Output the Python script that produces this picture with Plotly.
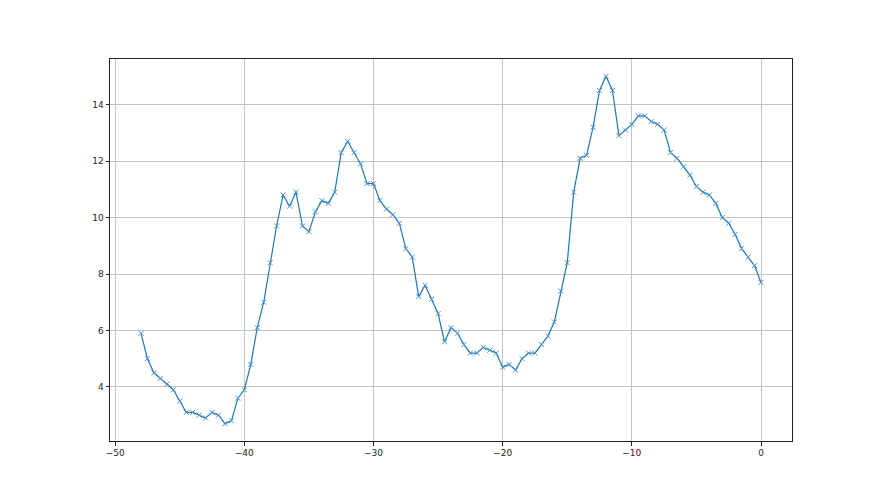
import numpy as np
import plotly.graph_objects as go

x_vals = np.arange(-48, 0.25, 0.5)
y_vals = [
    5.9, 5.0, 4.5, 4.3, 4.1, 3.9, 3.5, 3.1, 3.1, 3.0,
    2.9, 3.1, 3.0, 2.7, 2.8, 3.6, 3.9, 4.8, 6.1, 7.0,
    8.4, 9.7, 10.8, 10.4, 10.9, 9.7, 9.5, 10.2, 10.6, 10.5,
    10.9, 12.3, 12.7, 12.3, 11.9, 11.2, 11.2, 10.6, 10.3, 10.1,
    9.8, 8.9, 8.6, 7.2, 7.6, 7.1, 6.6, 5.6, 6.1, 5.9,
    5.5, 5.2, 5.2, 5.4, 5.3, 5.2, 4.7, 4.8, 4.6, 5.0,
    5.2, 5.2, 5.5, 5.8, 6.3, 7.4, 8.4, 10.9, 12.1, 12.2,
    13.2, 14.5, 15.0, 14.5, 12.9, 13.1, 13.3, 13.6, 13.6, 13.4,
    13.3, 13.1, 12.3, 12.1, 11.8, 11.5, 11.1, 10.9, 10.8, 10.5,
    10.0, 9.8, 9.4, 8.9, 8.6, 8.3, 7.7,
]
x_ticks = [-50, -40, -30, -20, -10, 0]
y_ticks = [4, 6, 8, 10, 12, 14]

fig = go.Figure()
fig.add_trace(go.Scatter(
    x=x_vals, y=y_vals, mode="lines+markers",
    line=dict(color="#1f77b4", width=1.2),
    marker=dict(symbol="x-thin", size=5, line=dict(color="#4a92c6", width=1)),
    showlegend=False,
))

axis_common = dict(
    showline=True, linecolor="#222222", linewidth=1, mirror=True,
    showgrid=True, gridcolor="#c4c4c4", gridwidth=0.8,
    ticks="outside", ticklen=3.5, tickwidth=0.8, tickcolor="#222222",
    zeroline=False, tickfont=dict(family="DejaVu Sans", size=9, color="#262626"),
)
xmin, xmax = min(x_vals), max(x_vals)
ymin, ymax = min(y_vals), max(y_vals)
fig.update_xaxes(range=[xmin - 0.05 * (xmax - xmin), xmax + 0.05 * (xmax - xmin)],
                 tickvals=x_ticks, ticktext=[str(v).replace("-", "\u2212") for v in x_ticks],
                 **axis_common)
fig.update_yaxes(range=[ymin - 0.05 * (ymax - ymin), ymax + 0.05 * (ymax - ymin)],
                 tickvals=y_ticks, ticktext=[str(v) for v in y_ticks],
                 **axis_common)
fig.update_layout(
    width=880, height=495,
    margin=dict(l=102, r=96, t=51, b=62),
    plot_bgcolor="white", paper_bgcolor="white",
)
fig.write_html("out.html")
